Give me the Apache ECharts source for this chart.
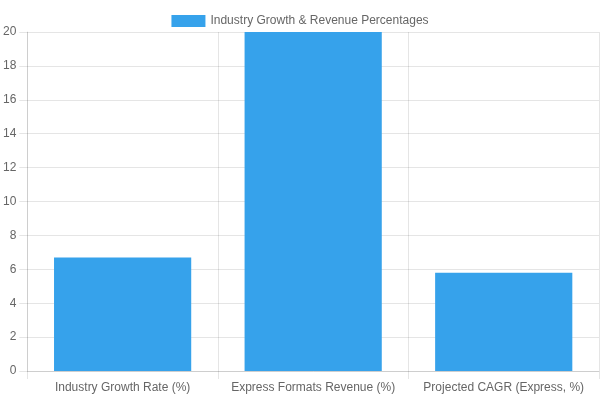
<!DOCTYPE html>
<html>
<head>
<meta charset="utf-8">
<script src="https://cdn.jsdelivr.net/npm/echarts@6/dist/echarts.min.js"></script>
<style>html,body{margin:0;padding:0;background:#fff}#c{width:600px;height:400px}</style>
</head>
<body>
<div id="c"></div>
<script>
const categories = ["Industry Growth Rate (%)", "Express Formats Revenue (%)", "Projected CAGR (Express, %)"];
const seriesName = "Industry Growth & Revenue Percentages";
const values = [6.7, 20, 5.8];
const yTicks = { min: 0, max: 20, interval: 2 };

const chart = echarts.init(document.getElementById('c'), null, { renderer: 'canvas' });
const gridColor = 'rgba(0,0,0,0.1)';
const font = { fontFamily: 'Liberation Sans, Arial, sans-serif', fontSize: 12, color: '#666' };
chart.setOption({
  animation: false,
  legend: {
    top: 10, left: 'center',
    icon: 'rect',
    itemWidth: 34, itemHeight: 12, itemGap: 10,
    textStyle: font,
    data: [{ name: seriesName, itemStyle: { color: '#36A2EB' } }]
  },
  grid: { left: 27, right: 1, top: 32, bottom: 29, containLabel: false },
  xAxis: {
    type: 'category', data: categories, boundaryGap: true,
    axisLine: { show: true, lineStyle: { color: gridColor } },
    axisTick: { show: true, length: 8, interval: 0, lineStyle: { color: gridColor } },
    splitLine: { show: true, interval: 0, lineStyle: { color: gridColor } },
    axisLabel: Object.assign({ margin: 11, interval: 0 }, font)
  },
  yAxis: {
    type: 'value', min: yTicks.min, max: yTicks.max, interval: yTicks.interval,
    axisLine: { show: true, lineStyle: { color: gridColor } },
    axisTick: { show: true, length: 8, lineStyle: { color: gridColor } },
    splitLine: { show: true, lineStyle: { color: gridColor } },
    axisLabel: Object.assign({ margin: 11 }, font)
  },
  series: [{
    name: seriesName, type: 'bar', data: values,
    barCategoryGap: '28%',
    itemStyle: { color: '#36A2EB' }
  }]
});
</script>
</body>
</html>
